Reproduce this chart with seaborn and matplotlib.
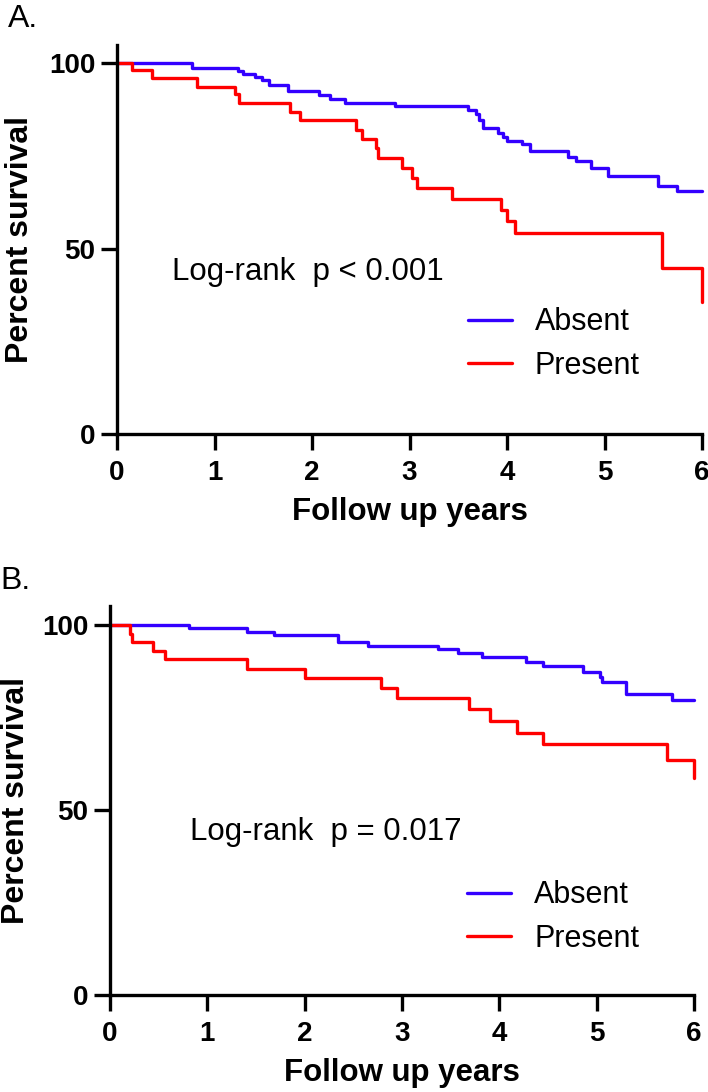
import matplotlib
matplotlib.use('Agg')
import matplotlib.pyplot as plt
import seaborn as sns
import pandas as pd

# panel A: Kaplan-Meier steps (years, percent survival)
a_absent_t = [0, 0.77, 1.24, 1.29, 1.42, 1.49, 1.56, 1.75, 2.07, 2.18, 2.34, 2.85, 3.60, 3.68,
              3.71, 3.75, 3.91, 3.96, 4.00, 4.15, 4.24, 4.63, 4.71, 4.86, 5.04, 5.55, 5.74, 6.0]
a_absent_s = [100, 98.6, 97.8, 97.0, 96.3, 95.4, 94.1, 92.5, 91.4, 90.2, 89.3, 88.4, 87.3, 86.3,
              84.6, 82.6, 81.2, 80.1, 79.1, 78.2, 76.4, 74.7, 73.7, 71.6, 69.5, 66.8, 65.5, 65.5]
a_present_t = [0, 0.15, 0.36, 0.82, 1.21, 1.25, 1.77, 1.88, 2.45, 2.51, 2.66, 2.68, 2.92, 3.03,
               3.08, 3.44, 3.94, 4.00, 4.08, 5.59, 6.0]
a_present_s = [100, 98.1, 96.0, 93.6, 91.6, 89.3, 86.9, 84.6, 81.9, 79.4, 77.0, 74.3, 71.6, 68.9,
               66.2, 63.3, 60.4, 57.4, 54.3, 44.8, 35.7]

# panel B
b_absent_t = [0, 0.81, 1.41, 1.68, 2.34, 2.65, 3.37, 3.58, 3.82, 4.27, 4.45, 4.86, 5.03, 5.05,
              5.30, 5.77, 6.0]
b_absent_s = [100, 99.1, 98.2, 97.3, 95.3, 94.4, 93.4, 92.3, 91.3, 90.1, 88.9, 87.4, 86.0, 84.7,
              81.4, 79.7, 79.7]
b_present_t = [0, 0.21, 0.23, 0.44, 0.57, 1.41, 2.00, 2.78, 2.95, 3.69, 3.90, 4.18, 4.45, 5.72, 6.0]
b_present_s = [100, 97.7, 95.5, 93.1, 90.7, 88.0, 85.6, 82.9, 80.2, 77.2, 74.1, 70.9, 67.8, 63.5, 58.6]

groups = ['Absent', 'Present']
colors = {'Absent': '#3300ff', 'Present': '#ff0000'}
x_ticks = [0, 1, 2, 3, 4, 5, 6]
y_ticks = [0, 50, 100]

sns.set_style('ticks', rc={'axes.edgecolor': 'black', 'xtick.color': 'black',
                           'ytick.color': 'black', 'text.color': 'black',
                           'axes.labelcolor': 'black'})
plt.rcParams['font.family'] = ['Liberation Sans', 'DejaVu Sans']

fig = plt.figure(figsize=(7.08, 10.92), dpi=100)

panels = [
    {'label': 'A.', 'pval': 'Log-rank  p < 0.001',
     'rect': [117/708, 658/1092, 585/708, 389.5/1092],
     'data': [(a_absent_t, a_absent_s), (a_present_t, a_present_s)],
     'letter_xy': (8/708, 1 - 4/1092), 'text_xy': (0.56, 41.5), 'leg_xy': (3.6, 24.2),
     'ylabelpad': 10},
    {'label': 'B.', 'pval': 'Log-rank  p = 0.017',
     'rect': [110/708, 97/1092, 584/708, 388.5/1092],
     'data': [(b_absent_t, b_absent_s), (b_present_t, b_present_s)],
     'letter_xy': (0/708, 1 - 566/1092), 'text_xy': (0.82, 42.0), 'leg_xy': (3.67, 21.0),
     'ylabelpad': 8},
]

for p in panels:
    ax = fig.add_axes(p['rect'])
    for g, (t, s) in zip(groups, p['data']):
        df = pd.DataFrame({'years': t, 'survival': s})
        sns.lineplot(data=df, x='years', y='survival', ax=ax, color=colors[g],
                     drawstyle='steps-post', linewidth=2.4, label=g,
                     estimator=None, sort=False, clip_on=False)
    ax.set_xlim(0, 6)
    ax.set_ylim(0, 105)
    ax.set_xticks(x_ticks)
    ax.set_yticks(y_ticks)
    sns.despine(ax=ax)
    for sp in ['left', 'bottom']:
        ax.spines[sp].set_linewidth(2.4)
    ax.tick_params(axis='both', direction='out', length=11.5, width=2.4,
                   bottom=True, left=True, labelsize=20)
    ax.tick_params(axis='x', pad=7)
    ax.tick_params(axis='y', pad=4)
    for lab in ax.get_xticklabels() + ax.get_yticklabels():
        lab.set_fontweight('bold')
    ax.set_xlabel('Follow up years', fontsize=22.5, fontweight='bold', labelpad=8)
    ax.set_ylabel('Percent survival', fontsize=23, fontweight='bold',
                  labelpad=p['ylabelpad'])
    ax.text(p['text_xy'][0], p['text_xy'][1], p['pval'], fontsize=22.5,
            ha='left', va='baseline')
    ax.legend(loc='center left', bbox_to_anchor=p['leg_xy'], bbox_transform=ax.transData,
              frameon=False, fontsize=22, handlelength=1.44, handletextpad=0.75,
              labelspacing=0.45, borderpad=0, borderaxespad=0)
    fig.text(p['letter_xy'][0], p['letter_xy'][1], p['label'], fontsize=23,
             ha='left', va='top')

fig.savefig('out.png', dpi=100)
